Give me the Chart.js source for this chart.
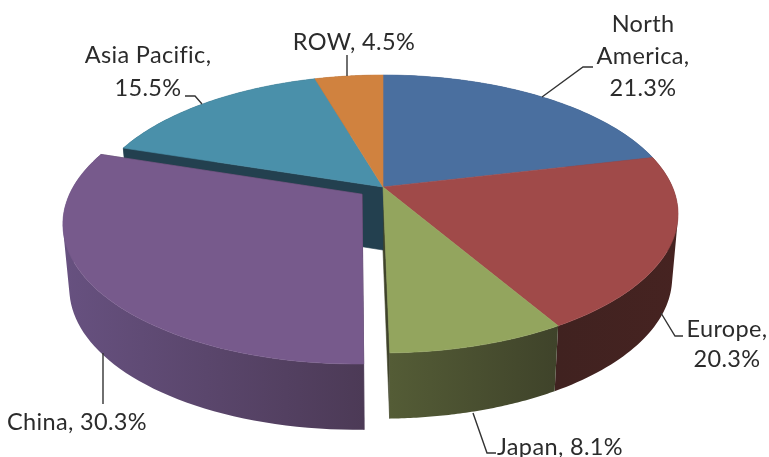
<!DOCTYPE html>
<html>
<head>
<meta charset="utf-8">
<title>Market share by region</title>
<script src="https://cdn.jsdelivr.net/npm/chart.js@4"></script>
<style>
  html, body { margin: 0; padding: 0; background: #fff; }
  canvas { display: block; }
</style>
</head>
<body>
<canvas id="myChart" width="769" height="457"></canvas>
<script>
var regions = ['North America', 'Europe', 'Japan', 'China', 'Asia Pacific', 'ROW'];
var shares = [21.3, 20.3, 8.1, 30.3, 15.5, 4.5];
var explode = [0, 0, 0, 16, 0, 0];

var topColors = ['#4a6f9f', '#a04a49', '#93a55e', '#775a8c', '#4a90aa', '#d0823f'];
var wallLeft = ['#2b3f5c', '#402220', '#545c36', '#675180', '#23404f', '#7f4e25'];
var wallRight = ['#2b3f5c', '#462321', '#3f432a', '#4c3a56', '#23404f', '#7f4e25'];

// how many words of "Region, x%" go on each line of the label
var labelWords = [[1, 1, 1], [1, 1], [2], [2], [2, 1], [2]];
var labelX = [643, 727, 560, 77, 148, 354];
var labelY = [[32, 64, 96], [337, 367], [455], [430], [63, 96], [50]];
var leaders = [
  [[542, 97], [583, 67], [593, 67]],
  [[661, 313], [675, 336], [683, 336]],
  [[473, 413], [487, 453], [496, 453]],
  [[103, 353], [103, 404]],
  [[185, 96], [195, 96], [202, 104]],
  [[347, 55], [347, 76]]
];

// perspective of the tilted disc
var squeezeX = 1.617, squeezeY = 0.747, tilt = 0.194;
var shrink = 0.98, wallBase = 63, wallGrow = 6;

function project(el, angle, r, low) {
  var a = angle + Math.PI / 2;
  var d = el.options.offset / el.outerRadius;
  var mid = (el.startAngle + el.endAngle) / 2 + Math.PI / 2;
  var u = r * Math.sin(a) + d * Math.sin(mid);
  var v = -r * Math.cos(a) - d * Math.cos(mid);
  var w = 1 - tilt * v;
  var x = squeezeX * el.outerRadius * u / w;
  var y = squeezeY * el.outerRadius * v / w;
  if (low) {
    x *= shrink;
    y = y * shrink + wallBase + wallGrow * v;
  }
  return [el.x + x, el.y + y];
}

function rim(el, low) {
  var pts = [];
  for (var i = 0; i <= 60; i++) {
    var t = el.startAngle + (el.endAngle - el.startAngle) * i / 60;
    pts.push(project(el, t, 1, low));
  }
  return pts;
}

function tracePoly(ctx, pts) {
  pts.forEach(function (p, i) {
    if (i === 0) ctx.moveTo(p[0], p[1]); else ctx.lineTo(p[0], p[1]);
  });
  ctx.closePath();
}

function fillPoly(ctx, pts, color) {
  ctx.beginPath();
  tracePoly(ctx, pts);
  ctx.fillStyle = color;
  ctx.strokeStyle = color;
  ctx.lineWidth = 0.6;
  ctx.fill();
  ctx.stroke();
}

function area(pts) {
  var s = 0;
  pts.forEach(function (p, i) {
    var q = pts[(i + 1) % pts.length];
    s += p[0] * q[1] - q[0] * p[1];
  });
  return s;
}

function drawSides(ctx, els, i) {
  var el = els[i];
  var n = els.length;
  var prev = els[(i + n - 1) % n], next = els[(i + 1) % n];
  var faces = [];
  if (el.options.offset || prev.options.offset) faces.push(el.startAngle);
  if (el.options.offset || next.options.offset) faces.push(el.endAngle);
  faces.forEach(function (angle) {
    fillPoly(ctx, [
      project(el, angle, 0, false),
      project(el, angle, 1, false),
      project(el, angle, 1, true),
      project(el, angle, 0, true)
    ], wallRight[i]);
  });
  var top = rim(el, false);
  var low = rim(el, true);
  var xs = top.concat(low).map(function (p) { return p[0]; });
  var g = ctx.createLinearGradient(Math.min.apply(null, xs), 0, Math.max.apply(null, xs), 0);
  g.addColorStop(0, wallLeft[i]);
  g.addColorStop(1, wallRight[i]);
  // quads in one path, same winding, so the wall reaches its silhouette without seams
  ctx.beginPath();
  for (var k = 0; k < top.length - 1; k++) {
    var quad = [top[k], top[k + 1], low[k + 1], low[k]];
    if (area(quad) < 0) quad.reverse();
    tracePoly(ctx, quad);
  }
  ctx.fillStyle = g;
  ctx.fill();
}

function drawTop(ctx, el, i) {
  fillPoly(ctx, [project(el, el.startAngle, 0, false)].concat(rim(el, false)), topColors[i]);
}

var pie3d = {
  id: 'pie3d',
  beforeDatasetDraw: function (chart) {
    var ctx = chart.ctx;
    var els = chart.getDatasetMeta(0).data;
    ctx.save();
    ctx.lineJoin = 'round';
    [false, true].forEach(function (pulled) {
      els.forEach(function (el, i) {
        if (!!el.options.offset === pulled) drawSides(ctx, els, i);
      });
      els.forEach(function (el, i) {
        if (!!el.options.offset === pulled) drawTop(ctx, el, i);
      });
    });
    ctx.restore();
    return false;
  },
  afterDatasetsDraw: function (chart) {
    var ctx = chart.ctx;
    ctx.save();
    ctx.strokeStyle = '#333';
    ctx.lineWidth = 1.4;
    leaders.forEach(function (line) {
      ctx.beginPath();
      line.forEach(function (p, i) {
        if (i === 0) ctx.moveTo(p[0], p[1]); else ctx.lineTo(p[0], p[1]);
      });
      ctx.stroke();
    });
    ctx.fillStyle = '#2b2b2b';
    ctx.font = '23.5px Lato';
    ctx.letterSpacing = '0.35px';
    ctx.textAlign = 'center';
    ctx.textBaseline = 'alphabetic';
    regions.forEach(function (name, i) {
      var words = (name + ', ' + shares[i].toFixed(1) + '%').split(' ');
      labelWords[i].forEach(function (count, k) {
        ctx.fillText(words.splice(0, count).join(' '), labelX[i], labelY[i][k]);
      });
    });
    ctx.restore();
  }
};

new Chart(document.getElementById('myChart'), {
  type: 'pie',
  data: {
    labels: regions,
    datasets: [{
      data: shares,
      backgroundColor: topColors,
      borderWidth: 0,
      offset: explode
    }]
  },
  options: {
    responsive: false,
    animation: false,
    layout: { padding: { left: 0, right: 3, top: 0, bottom: 83 } },
    plugins: { legend: { display: false }, tooltip: { enabled: false } }
  },
  plugins: [pie3d]
});
</script>
</body>
</html>
